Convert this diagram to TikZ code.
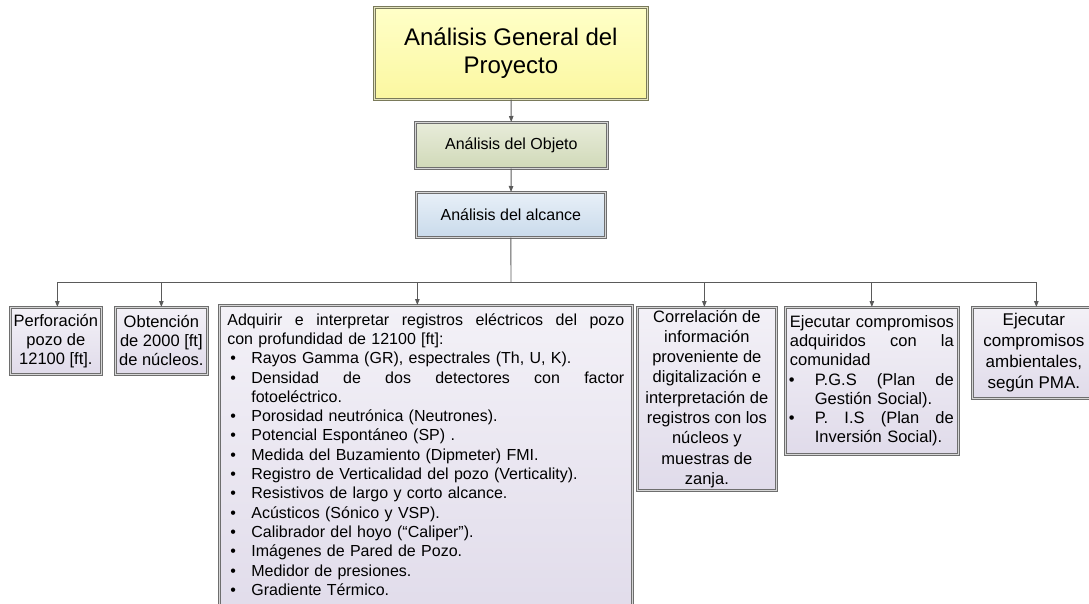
\documentclass[tikz,border=0pt]{standalone}
\usepackage{fontspec}
\setmainfont{Liberation Sans}
\usetikzlibrary{arrows.meta,shadows}
\definecolor{boxline}{HTML}{6E6E6E}
\definecolor{boxgap}{HTML}{D6D6D6}
\definecolor{ylwline}{HTML}{7A7A5A}
\definecolor{ylwgap}{HTML}{E4E4C0}
\definecolor{ylwtop}{HTML}{FFFFC8}
\definecolor{ylwbot}{HTML}{FBF7A0}
\definecolor{grntop}{HTML}{E8ECDA}
\definecolor{grnbot}{HTML}{D0D9B8}
\definecolor{blutop}{HTML}{E8F0F8}
\definecolor{blubot}{HTML}{C9DAEB}
\definecolor{lavtop}{HTML}{F3F1F7}
\definecolor{lavbot}{HTML}{E0DBEA}
\definecolor{shadowc}{HTML}{C5CDD8}
\definecolor{arrc}{HTML}{5A5A5A}
\newcommand\bul[1]{\makebox[24pt][l]{\hspace{3pt}\textbullet}#1}
\newcommand\cont[1]{\makebox[24pt][l]{}#1}
\newcommand\bulb[1]{\makebox[25pt][l]{\hspace{-1pt}\textbullet}#1}
\newcommand\contb[1]{\makebox[25pt][l]{}#1}
\newcommand\jl[2]{\makebox[#1][l]{#2}}
\def\g{\hfill\ }
\begin{document}
\begin{tikzpicture}[x=1pt,y=-1pt,
  basebox/.style={draw=boxline, double=boxgap, double distance=1.1pt, line width=0.7pt,
    drop shadow={shadow xshift=1.8pt, shadow yshift=-1.8pt, fill=shadowc, opacity=0.7},
    inner sep=0pt, anchor=north west},
  lowbox/.style={basebox, top color=lavtop, bottom color=lavbot, align=center,
    font=\fontsize{16.5}{19}\selectfont},
  arr/.style={draw=arrc, line width=0.9pt, -{Triangle[length=6pt,width=4.5pt]}},
  ln/.style={draw=arrc, line width=0.9pt}]
\useasboundingbox (0,0) rectangle (1089,603);

\node[basebox, draw=ylwline, double=ylwgap, top color=ylwtop, bottom color=ylwbot,
  minimum width=273pt, minimum height=92pt, align=center,
  font=\fontsize{24}{28}\selectfont] (top) at (374,7) {Análisis General del\\Proyecto};
\node[basebox, top color=grntop, bottom color=grnbot, minimum width=192pt, minimum height=46pt,
  font=\fontsize{16}{19}\selectfont] (obj) at (415,122) {Análisis del Objeto};
\node[basebox, top color=blutop, bottom color=blubot, minimum width=189pt, minimum height=45pt,
  font=\fontsize{16}{19}\selectfont] (alc) at (416,192) {Análisis del alcance};

\node[lowbox, minimum width=91pt, minimum height=67pt] (b1) at (10,307)
  {Perforación\\pozo de\\12100 [ft].};
\node[lowbox, minimum width=92pt, minimum height=67pt] (b2) at (115,307)
  {Obtención\\de 2000 [ft]\\de núcleos.};
\node[lowbox, align=left, text width=397pt, inner xsep=8pt, inner ysep=8pt,
  font=\fontsize{16}{19.3}\selectfont] (b3) at (219,305)
  {\jl{397pt}{Adquirir\g e\g interpretar\g registros\g eléctricos\g del\g pozo}\\
   con profundidad de 12100 [ft]:\\
   \bul{Rayos Gamma (GR), espectrales (Th, U, K).}\\
   \bul{\jl{373pt}{Densidad\g de\g dos\g detectores\g con\g factor}}\\
   \cont{fotoeléctrico.}\\
   \bul{Porosidad neutrónica (Neutrones).}\\
   \bul{Potencial Espontáneo (SP) .}\\
   \bul{Medida del Buzamiento (Dipmeter) FMI.}\\
   \bul{Registro de Verticalidad del pozo (Verticality).}\\
   \bul{Resistivos de largo y corto alcance.}\\
   \bul{Acústicos (Sónico y VSP).}\\
   \bul{Calibrador del hoyo (“Caliper”).}\\
   \bul{Imágenes de Pared de Pozo.}\\
   \bul{Medidor de presiones.}\\
   \bul{Gradiente Térmico.}\\[6pt]\mbox{}};
\node[lowbox, minimum width=139pt, minimum height=183pt,
  font=\fontsize{16.5}{20.3}\selectfont] (b4) at (637,307)
  {Correlación de\\información\\proveniente de\\digitalización e\\interpretación de\\registros con los\\núcleos y\\muestras de\\zanja.};
\node[lowbox, minimum width=173pt, minimum height=147pt, align=left, text width=164pt,
  inner xsep=4.5pt, font=\fontsize{16.5}{19.2}\selectfont] (b5) at (785,307)
  {\jl{164pt}{Ejecutar\g compromisos}\\
   \jl{164pt}{adquiridos\g con\g la}\\
   comunidad\\
   \bulb{\jl{139pt}{P.G.S\g (Plan\g de}}\\
   \contb{Gestión Social).}\\
   \bulb{\jl{139pt}{P.\g I.S\g (Plan\g de}}\\
   \contb{Inversión Social).}};
\node[lowbox, minimum width=123pt, minimum height=91pt,
  font=\fontsize{17}{21}\selectfont] (b6) at (972,307)
  {Ejecutar\\compromisos\\ambientales,\\según PMA.};

\coordinate (hub) at (511,282);
\draw[arr] (top) -- (obj);
\draw[arr] (obj) -- (alc);
\draw[ln] (alc.south) -- (hub);
\draw[arr] (hub) -| ([xshift=1.5pt]b1.north);
\draw[arr] (hub) -| (b2.north);
\draw[arr] (hub) -| ([xshift=-8.5pt]b3.north);
\draw[arr] (hub) -| ([xshift=-2.5pt]b4.north);
\draw[arr] (hub) -| (b5.north);
\draw[arr] (hub) -| ([xshift=2.5pt]b6.north);
\end{tikzpicture}
\end{document}
